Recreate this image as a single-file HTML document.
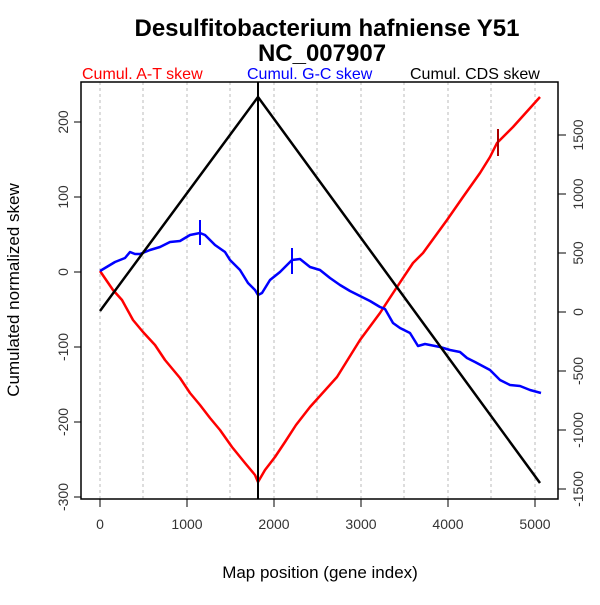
<!DOCTYPE html>
<html><head><style>body{margin:0;background:#fff}</style></head><body>
<svg width="600" height="600" xmlns="http://www.w3.org/2000/svg" font-family="Liberation Sans, sans-serif">
<rect width="600" height="600" fill="#fff"/>
<text x="327" y="36" font-size="24" font-weight="bold" text-anchor="middle">Desulfitobacterium hafniense Y51</text>
<text x="322" y="61" font-size="24" font-weight="bold" text-anchor="middle">NC_007907</text>
<text x="82" y="79" font-size="16" fill="#f00">Cumul. A-T skew</text>
<text x="247" y="79" font-size="16" fill="#00f">Cumul. G-C skew</text>
<text x="410" y="79" font-size="16" fill="#000">Cumul. CDS skew</text>
<g stroke="#bbb" stroke-dasharray="3,3" stroke-width="1">
<line x1="100" y1="82" x2="100" y2="499"/><line x1="143" y1="82" x2="143" y2="499"/><line x1="187" y1="82" x2="187" y2="499"/><line x1="230" y1="82" x2="230" y2="499"/><line x1="274" y1="82" x2="274" y2="499"/><line x1="317" y1="82" x2="317" y2="499"/><line x1="361" y1="82" x2="361" y2="499"/><line x1="404" y1="82" x2="404" y2="499"/><line x1="448" y1="82" x2="448" y2="499"/><line x1="491" y1="82" x2="491" y2="499"/><line x1="535" y1="82" x2="535" y2="499"/>
</g>
<rect x="81" y="82" width="477" height="417" fill="none" stroke="#000" stroke-width="1.5"/>
<g stroke="#000" stroke-width="1">
<line x1="81" y1="122" x2="74" y2="122"/><line x1="81" y1="197" x2="74" y2="197"/><line x1="81" y1="272" x2="74" y2="272"/><line x1="81" y1="347" x2="74" y2="347"/><line x1="81" y1="422" x2="74" y2="422"/><line x1="81" y1="497" x2="74" y2="497"/>
<line x1="100" y1="499" x2="100" y2="507"/><line x1="187" y1="499" x2="187" y2="507"/><line x1="274" y1="499" x2="274" y2="507"/><line x1="361" y1="499" x2="361" y2="507"/><line x1="448" y1="499" x2="448" y2="507"/><line x1="535" y1="499" x2="535" y2="507"/>
<line x1="558" y1="135" x2="566" y2="135"/><line x1="558" y1="194" x2="566" y2="194"/><line x1="558" y1="253" x2="566" y2="253"/><line x1="558" y1="312" x2="566" y2="312"/><line x1="558" y1="371" x2="566" y2="371"/><line x1="558" y1="430" x2="566" y2="430"/><line x1="558" y1="489" x2="566" y2="489"/>
</g>
<g font-size="14" text-anchor="middle" fill="#333">
<text transform="translate(68,122) rotate(-90)">200</text><text transform="translate(68,197) rotate(-90)">100</text><text transform="translate(68,272) rotate(-90)">0</text><text transform="translate(68,347) rotate(-90)">-100</text><text transform="translate(68,422) rotate(-90)">-200</text><text transform="translate(68,497) rotate(-90)">-300</text>
<text x="100" y="529">0</text><text x="187" y="529">1000</text><text x="274" y="529">2000</text><text x="361" y="529">3000</text><text x="448" y="529">4000</text><text x="535" y="529">5000</text>
<text transform="translate(583,135) rotate(-90)">1500</text><text transform="translate(583,194) rotate(-90)">1000</text><text transform="translate(583,253) rotate(-90)">500</text><text transform="translate(583,312) rotate(-90)">0</text><text transform="translate(583,371) rotate(-90)">-500</text><text transform="translate(583,430) rotate(-90)">-1000</text><text transform="translate(583,489) rotate(-90)">-1500</text>
</g>
<text transform="translate(19,290) rotate(-90)" font-size="17" text-anchor="middle">Cumulated normalized skew</text>
<text x="320" y="578" font-size="17" text-anchor="middle">Map position (gene index)</text>
<polyline fill="none" stroke="#f00" stroke-width="2.5" stroke-linejoin="round" points="100,271 113,290 122,300 133,320 143,332 155,345 165,360 180,378 190,393 200,405 210,418 220,430 232,447 245,463 255,475 258,482 265,470 275,457 285,442 296,425 310,407 337,377 360,340 380,313 397,287 413,263 423,253 447,220 463,197 480,173 490,157 497,143 513,127 540,97"/>
<line x1="498" y1="129" x2="498" y2="156" stroke="#a00" stroke-width="2"/>
<polyline fill="none" stroke="#00f" stroke-width="2.5" stroke-linejoin="round" points="100,271 115,262 125,258 130,252 135,254 140,254 150,250 160,247 170,242 180,241 190,235 200,233 205,235 215,245 225,252 230,260 240,270 248,283 255,290 258,295 262,293 270,280 280,272 292,260 300,259 310,267 320,270 330,278 340,285 350,291 360,296 370,301 380,307 385,309 393,323 400,328 410,333 418,346 425,344 440,347 450,350 460,352 467,358 475,362 490,370 500,380 510,385 520,386 530,390 541,393"/>
<line x1="200" y1="220" x2="200" y2="245" stroke="#00f" stroke-width="2"/>
<line x1="292" y1="248" x2="292" y2="274" stroke="#00f" stroke-width="2"/>
<polyline fill="none" stroke="#000" stroke-width="2.5" points="100,311 258,97 540,483"/>
<line x1="258" y1="82" x2="258" y2="499" stroke="#000" stroke-width="2"/>
</svg>
</body></html>
